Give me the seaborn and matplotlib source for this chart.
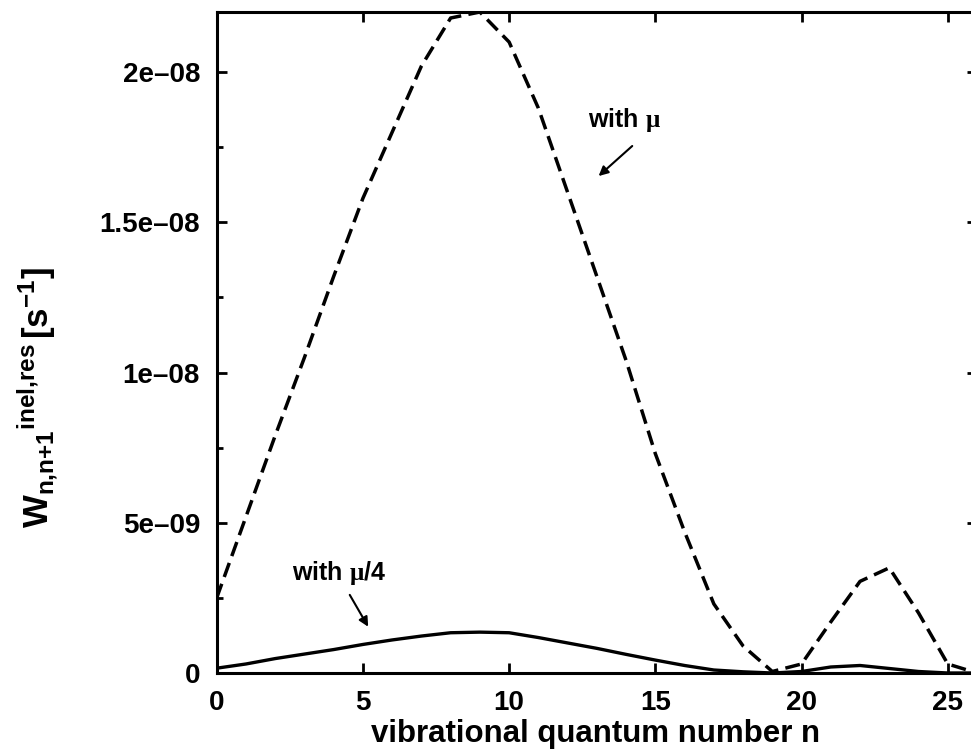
import numpy as np
import pandas as pd
import matplotlib
matplotlib.use("Agg")
import matplotlib.pyplot as plt
import seaborn as sns

# ---- data ----
n_vals = list(range(27))
w_mu = [2.5, 5.2, 7.9, 10.5, 13.2, 15.8, 18.0, 20.2, 21.8, 22.0,
        21.0, 18.8, 16.0, 13.2, 10.4, 7.3, 4.7, 2.3, 0.9, 0.05,
        0.3, 1.7, 3.05, 3.5, 2.0, 0.3, 0.0]
w_mu4 = [0.16, 0.30, 0.48, 0.63, 0.78, 0.95, 1.10, 1.23, 1.34, 1.36,
         1.34, 1.18, 1.00, 0.82, 0.62, 0.43, 0.25, 0.10, 0.04, 0.0,
         0.05, 0.20, 0.25, 0.15, 0.05, 0.0, 0.0]
scale = 1e-9
y_ticks = [0, 5e-9, 1e-8, 1.5e-8, 2e-8]
y_tick_labels = ["0", "5e\u201309", "1e\u201308", "1.5e\u201308", "2e\u201308"]
x_ticks = [0, 5, 10, 15, 20, 25]
x_tick_labels = ["0", "5", "10", "15", "20", "25"]

df = pd.DataFrame({
    "n": n_vals * 2,
    "W": [v * scale for v in w_mu] + [v * scale for v in w_mu4],
    "case": ["mu"] * len(n_vals) + ["mu4"] * len(n_vals),
})

sns.set_style("ticks")
plt.rcParams["font.family"] = ["Liberation Sans", "DejaVu Sans"]
plt.rcParams["font.weight"] = "bold"
plt.rcParams["text.color"] = "black"
plt.rcParams["axes.labelcolor"] = "black"
plt.rcParams["xtick.color"] = "black"
plt.rcParams["ytick.color"] = "black"
plt.rcParams["mathtext.fontset"] = "custom"
plt.rcParams["mathtext.rm"] = "Liberation Serif"
plt.rcParams["mathtext.it"] = "Liberation Serif:italic"
plt.rcParams["mathtext.bf"] = "Liberation Sans:bold"

fig = plt.figure(figsize=(9.71, 7.5), dpi=100)
ax = fig.add_axes([216.7 / 971, 77 / 750, (977 - 216.7) / 971, (673 - 12) / 750])

sns.lineplot(data=df[df.case == "mu"], x="n", y="W", ax=ax, color="black",
             lw=2.5, legend=False)
ax.lines[-1].set_dashes((4.3, 2.1))
sns.lineplot(data=df[df.case == "mu4"], x="n", y="W", ax=ax, color="black",
             lw=2.4, legend=False)

ax.set_xlim(0, 26)
ax.set_ylim(0, 2.2e-8)
ax.set_xticks(x_ticks)
ax.set_xticklabels(x_tick_labels)
ax.set_yticks(y_ticks)
ax.set_yticklabels(y_tick_labels)
ax.set_yticks(np.arange(2.5e-9, 2.2e-8, 5e-9), minor=True)

for sp in ax.spines.values():
    sp.set_linewidth(2.2)
    sp.set_color("black")
ax.tick_params(axis="both", which="major", direction="in", length=7.5, width=2,
               top=True, right=True, labelsize=20, pad=12, colors="black")
ax.tick_params(axis="y", which="minor", direction="in", length=4.5, width=2,
               right=True)
for lab in ax.get_xticklabels() + ax.get_yticklabels():
    lab.set_fontweight("bold")

ax.set_xlabel("vibrational quantum number n", fontsize=22.5, fontweight="bold",
              va="baseline")
ax.xaxis.set_label_coords((596 - 216.7) / 760.3, (673 - 742) / 661)
ax.set_ylabel(r"$\mathbf{W_{n{,}n{+}1}{}^{inel{,}res}\,[s^{-1}]}$", fontsize=25)
ax.yaxis.set_label_coords((60 - 216.7) / 760.3, (673 - 398) / 661)

ax.text(12.71, 18.17e-9, r"with $\mathrm{\mu}$", fontsize=18,
        fontweight="bold", ha="left", va="baseline")
ax.annotate("", xy=(13.06, 16.54e-9), xytext=(14.21, 17.54e-9),
            arrowprops=dict(arrowstyle="-|>", color="black", lw=1.5,
                            mutation_scale=14, shrinkA=0, shrinkB=0))
ax.text(2.56, 3.1e-9, r"with $\mathrm{\mu}$/4", fontsize=18,
        fontweight="bold", ha="left", va="baseline")
ax.annotate("", xy=(5.18, 1.54e-9), xytext=(4.55, 2.6e-9),
            arrowprops=dict(arrowstyle="-|>", color="black", lw=1.5,
                            mutation_scale=14, shrinkA=0, shrinkB=0))

fig.savefig("out.png", dpi=100)
